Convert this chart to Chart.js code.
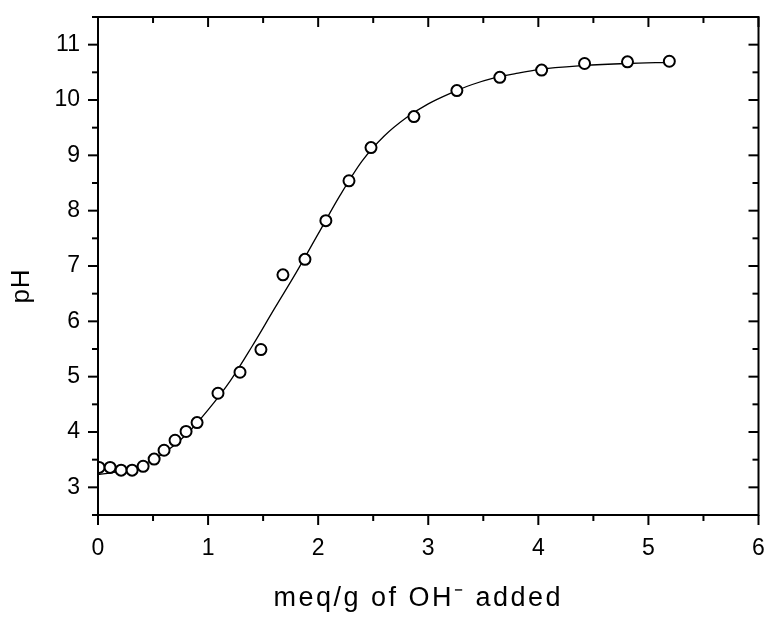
<!DOCTYPE html>
<html>
<head>
<meta charset="utf-8">
<script src="https://cdn.jsdelivr.net/npm/chart.js@4.4.1/dist/chart.umd.min.js"></script>
<style>
  html, body { margin: 0; padding: 0; background: #fff; }
  #wrap { width: 766px; height: 617px; }
</style>
</head>
<body>
<div id="wrap"><canvas id="c" width="766" height="617"></canvas></div>
<script>
// measured titration points
const PH_X = [0.01, 0.11, 0.21, 0.31, 0.41, 0.51, 0.60, 0.70, 0.80, 0.90, 1.09, 1.29, 1.48, 1.68, 1.88, 2.07, 2.28, 2.48, 2.87, 3.26, 3.65, 4.03, 4.42, 4.81, 5.19];
const PH_Y = [3.36, 3.36, 3.31, 3.31, 3.38, 3.51, 3.67, 3.85, 4.01, 4.17, 4.70, 5.08, 5.49, 6.84, 7.12, 7.82, 8.54, 9.14, 9.70, 10.17, 10.41, 10.54, 10.66, 10.69, 10.70];

// fitted curve
const CURVE_X = [0, 0.2, 0.4, 0.6, 0.8, 1.0, 1.2, 1.4, 1.6, 1.8, 2.0, 2.2, 2.4, 2.6, 2.8, 3.0, 3.2, 3.4, 3.6, 3.8, 4.0, 4.4, 4.8, 5.2];
const CURVE_Y = [3.23, 3.29, 3.40, 3.62, 3.95, 4.40, 4.92, 5.55, 6.22, 6.88, 7.58, 8.28, 8.90, 9.35, 9.68, 9.93, 10.12, 10.28, 10.40, 10.48, 10.55, 10.62, 10.66, 10.68];

const X_TICKS = [0, 1, 2, 3, 4, 5, 6];
const Y_TICKS = [3, 4, 5, 6, 7, 8, 9, 10, 11];
const X_TITLE = 'meq/g of OH\u207B added';
const Y_TITLE = 'pH';

const FONT = "'Liberation Sans', Arial, Helvetica, sans-serif";

// axis box with inward/outward ticks on all four sides
const frame = {
  id: 'frame',
  afterDraw(chart) {
    const { ctx, chartArea: a, scales: { x, y } } = chart;
    ctx.save();
    ctx.strokeStyle = '#000';
    ctx.lineWidth = 2;
    ctx.strokeRect(a.left, a.top, a.right - a.left, a.bottom - a.top);
    const tick = (x1, y1, x2, y2) => {
      ctx.beginPath(); ctx.moveTo(x1, y1); ctx.lineTo(x2, y2); ctx.stroke();
    };
    const xs = [];
    X_TICKS.forEach((v, i) => {
      xs.push([v, 10]);
      if (i < X_TICKS.length - 1) xs.push([(v + X_TICKS[i + 1]) / 2, 6]);
    });
    xs.forEach(([v, len]) => {
      const px = x.getPixelForValue(v);
      tick(px, a.bottom, px, a.bottom + len);
      tick(px, a.top, px, a.top + len);
    });
    const ys = [[2.5, 6]];
    Y_TICKS.forEach((v) => { ys.push([v, 10]); ys.push([v + 0.5, 6]); });
    ys.forEach(([v, len]) => {
      const py = y.getPixelForValue(v);
      tick(a.left - len, py, a.left, py);
      tick(a.right - len, py, a.right, py);
    });
    ctx.restore();
  }
};

// wider tracking and a small shift for the axis titles
function tweakTitle(s, dx, dy, spacing) {
  if (s._tweaked) return;
  s._tweaked = true;
  const orig = s.drawTitle.bind(s);
  s.drawTitle = function () {
    const ctx = this.ctx;
    ctx.save();
    ctx.translate(dx, dy);
    ctx.letterSpacing = spacing;
    orig();
    ctx.restore();
  };
}

new Chart(document.getElementById('c'), {
  type: 'scatter',
  data: {
    datasets: [
      {
        data: PH_X.map((v, i) => ({ x: v, y: PH_Y[i] })),
        pointStyle: 'circle',
        pointRadius: 5.5,
        pointBorderWidth: 2,
        pointBorderColor: '#000',
        pointBackgroundColor: '#fff',
        showLine: false,
        order: 0
      },
      {
        data: CURVE_X.map((v, i) => ({ x: v, y: CURVE_Y[i] })),
        showLine: true,
        borderColor: '#000',
        borderWidth: 1.3,
        pointRadius: 0,
        cubicInterpolationMode: 'monotone',
        order: 1
      }
    ]
  },
  options: {
    responsive: false,
    animation: false,
    layout: { padding: { left: 0, top: 17, right: 4, bottom: 0 } },
    plugins: { legend: { display: false }, tooltip: { enabled: false } },
    scales: {
      x: {
        type: 'linear',
        min: 0, max: 6,
        afterBuildTicks: (s) => { s.ticks = X_TICKS.map((v) => ({ value: v })); },
        afterFit: (s) => {
          s.height = 102;
          s.paddingLeft = 0; s.paddingRight = 0;
          tweakTitle(s, -10, 0, '2.5px');
        },
        grid: { display: false, drawTicks: false },
        border: { display: false },
        ticks: { color: '#000', padding: 20, maxRotation: 0, font: { family: FONT, size: 23 } },
        title: { display: true, text: X_TITLE, color: '#000', padding: { top: 0, bottom: 2 }, font: { family: FONT, size: 27 } }
      },
      y: {
        type: 'linear',
        min: 2.5, max: 11.5,
        afterBuildTicks: (s) => { s.ticks = Y_TICKS.map((v) => ({ value: v })); },
        afterFit: (s) => {
          s.width = 98;
          s.paddingTop = 0; s.paddingBottom = 0;
          tweakTitle(s, 0, 20, '1px');
        },
        grid: { display: false, drawTicks: false },
        border: { display: false },
        ticks: { color: '#000', padding: 18, font: { family: FONT, size: 23 } },
        title: { display: true, text: Y_TITLE, color: '#000', padding: { top: 6, bottom: 0 }, font: { family: FONT, size: 26 } }
      }
    }
  },
  plugins: [frame]
});
</script>
</body>
</html>
